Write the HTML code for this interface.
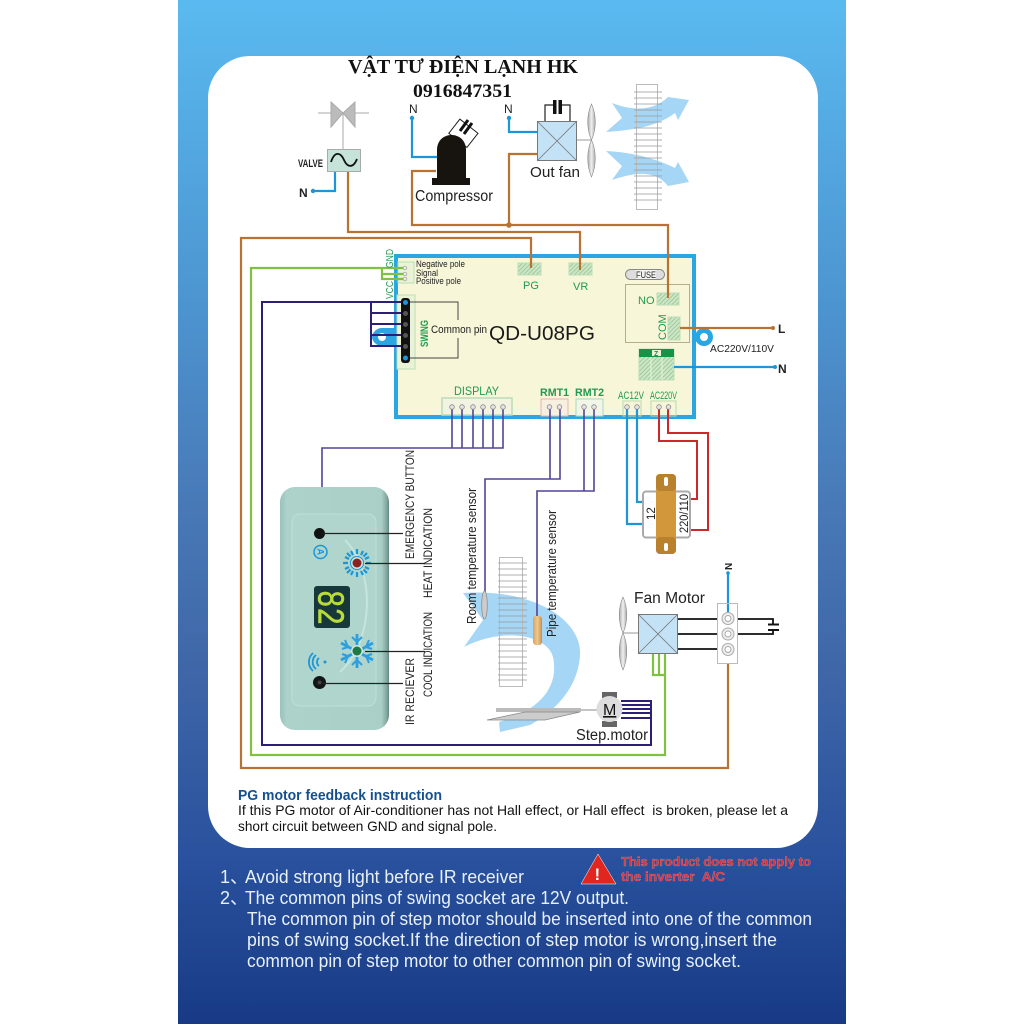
<!DOCTYPE html>
<html><head><meta charset="utf-8"><style>
html,body{margin:0;padding:0;background:#fff}
svg{display:block;filter:blur(.3px)}
text{font-family:"Liberation Sans","Noto Sans CJK SC",sans-serif}
</style></head><body>
<svg width="1024" height="1024" viewBox="0 0 1024 1024" xmlns="http://www.w3.org/2000/svg">
<defs>
<linearGradient id="bg" x1="0" y1="0" x2="0" y2="1">
<stop offset="0" stop-color="#5abaf0"/><stop offset=".3" stop-color="#4c94d0"/><stop offset=".5" stop-color="#4878b6"/><stop offset=".65" stop-color="#3f67a8"/><stop offset=".83" stop-color="#2a529e"/><stop offset="1" stop-color="#183a86"/>
</linearGradient>
<linearGradient id="rem" x1="0" y1="0" x2="1" y2="0">
<stop offset="0" stop-color="#98c2ba"/><stop offset=".06" stop-color="#acd2ca"/><stop offset=".93" stop-color="#a9cfc7"/><stop offset=".98" stop-color="#80a69f"/><stop offset="1" stop-color="#5f8680"/>
</linearGradient>
<linearGradient id="blade" x1="0" y1="0" x2="1" y2="0">
<stop offset="0" stop-color="#aaa"/><stop offset=".5" stop-color="#f0f0f0"/><stop offset="1" stop-color="#aaa"/>
</linearGradient>
<linearGradient id="sens" x1="0" y1="0" x2="1" y2="0">
<stop offset="0" stop-color="#d9a35c"/><stop offset=".5" stop-color="#f0c890"/><stop offset="1" stop-color="#c98e48"/>
</linearGradient>
<pattern id="hat" width="3" height="3" patternUnits="userSpaceOnUse" patternTransform="rotate(45)">
<rect width="3" height="3" fill="#cfe6c6"/><rect width="1" height="3" fill="#9ccb9e"/>
</pattern>
</defs>

<rect x="178" width="668" height="1024" fill="url(#bg)"/>
<rect x="208" y="56" width="610" height="792" rx="42" fill="#fff"/>

<!-- title -->
<text x="348" y="73" textLength="230" lengthAdjust="spacingAndGlyphs" style='font-family:"Liberation Serif","Noto Serif CJK SC",serif' font-weight="700" font-size="20" fill="#111">VẬT TƯ ĐIỆN LẠNH HK</text>
<text x="413" y="97" textLength="99" lengthAdjust="spacingAndGlyphs" style='font-family:"Liberation Serif",serif' font-weight="700" font-size="19" fill="#111">0916847351</text>

<!-- condenser -->
<path d="M612,103C635,112 655,110 668,97L689,100L678,120L675,113C655,128 630,130 606,132L622,118Z" fill="#a5d6f6"/>
<path d="M606,151C630,152 655,158 675,168L678,162L689,182L668,186C655,170 635,172 612,180L622,166Z" fill="#a5d6f6"/>
<rect x="636.500" y="84.500" width="21" height="125" fill="none" stroke="#bbb"/>
<g stroke="#999" stroke-width=".8">
<path d="M634,92H662M634,98H662M634,104H662M634,110H662M634,116H662M634,122H662M634,128H662M634,134H662M634,140H662M634,146H662M634,152H662M634,158H662M634,164H662M634,170H662M634,176H662M634,182H662M634,188H662M634,194H662M634,200H662"/>
</g>

<!-- evaporator + air -->
<path d="M463,593C530,588 582,618 580,655C578,690 552,713 530,725L500,732L499,722C535,712 560,690 553,657C548,636 505,626 464,647L483,620Z" fill="#a5d6f6"/>
<rect x="499.500" y="557.500" width="23" height="129" fill="none" stroke="#bbb"/>
<g stroke="#999" stroke-width=".8">
<path d="M498,563H527M498,569H527M498,575H527M498,581H527M498,587H527M498,592H527M498,598H527M498,604H527M498,610H527M498,616H527M498,622H527M498,628H527M498,633H527M498,639H527M498,645H527M498,651H527M498,657H527M498,663H527M498,669H527M498,675H527M498,680H527"/>
</g>

<!-- board -->
<circle cx="704" cy="337" r="9" fill="#2ba6e2"/>
<path d="M372,337a10,10 0 0 1 10,-9H395V346H382a10,10 0 0 1 -10,-9Z" fill="#2ba6e2"/>
<rect x="396" y="256" width="298" height="161" fill="#f7f6d8" stroke="#2ba6e2" stroke-width="4"/>
<circle cx="704" cy="337" r="4" fill="#fff"/>
<circle cx="382" cy="337" r="4" fill="#fff"/>
<rect x="398" y="262" width="16" height="21" fill="#eaf3d6" stroke="#bcdcb8"/>
<rect x="397" y="295" width="18" height="74" fill="#eaf3d6" stroke="#bcdcb8"/>
<rect x="518" y="263" width="23" height="12" fill="url(#hat)" stroke="#bcdcb8"/>
<rect x="569" y="263" width="23" height="12" fill="url(#hat)" stroke="#bcdcb8"/>
<rect x="625.500" y="269.500" width="39" height="10" rx="5" fill="#ddd" stroke="#888"/>
<rect x="636" y="270" width="20" height="9" fill="#f4f4f0"/>
<text x="636" y="278" textLength="20" lengthAdjust="spacingAndGlyphs" font-size="9" fill="#222">FUSE</text>
<rect x="625.500" y="284.500" width="64" height="58" fill="none" stroke="#b5ae8a"/>
<rect x="657" y="293" width="22" height="12" fill="url(#hat)" stroke="#bcdcb8"/>
<rect x="668" y="317" width="12" height="23" fill="url(#hat)" stroke="#bcdcb8"/>
<rect x="639" y="349" width="35" height="31" fill="url(#hat)" stroke="#bcdcb8"/>
<path d="M651,357V380M662,357V380" stroke="#eaf3d6"/>
<rect x="639" y="349" width="35" height="8" fill="#159447"/>
<rect x="652" y="350" width="9" height="6" fill="#eaf3d6"/>
<text x="654" y="356" font-size="7" font-weight="700" fill="#159447">Z</text>
<rect x="442" y="398" width="70" height="17" fill="#f2f3e0" stroke="#bcdcb8" stroke-width="1.500"/>
<rect x="541" y="399" width="27" height="17" fill="#f7f0e0" stroke="#e6b4b4"/>
<rect x="576" y="399" width="27" height="17" fill="#f2f6e8" stroke="#a8d8c0"/>
<rect x="623" y="401" width="18" height="15" fill="none" stroke="#b8d8b0"/>
<rect x="651" y="401" width="25" height="15" fill="none" stroke="#b8d8b0"/>

<!-- brown wires -->
<g fill="none" stroke="#b87333" stroke-width="2.200">
<path d="M348,171V232H580V270"/>
<path d="M436,171H412V225H668V298"/>
<path d="M509,225V154H537"/>
<path d="M531,268V238H241V768H728V663"/>
<path d="M680,328H773"/>
</g>
<circle cx="509" cy="225" r="2.800" fill="#b87333"/>
<circle cx="773" cy="328" r="2" fill="#b87333"/>

<!-- green wires -->
<g fill="none" stroke="#7fc241" stroke-width="2.200">
<path d="M405,268H251V755H665V654"/>
<path d="M382,268V279H405M382,274H405"/>
<path d="M653,654V675H665M659,654V675"/>
</g>

<!-- blue wires -->
<g fill="none" stroke="#1c96d8" stroke-width="2.200">
<path d="M335,171V191H313"/>
<path d="M412,118V157H437"/>
<path d="M509,118V132H537"/>
<path d="M674,367H775"/>
<path d="M627,407V524H642"/>
<path d="M637,407V502H642"/>
<path d="M728,573V612"/>
</g>
<g fill="#1c96d8"><circle cx="313" cy="191" r="2.200"/><circle cx="412" cy="118" r="2.200"/><circle cx="509" cy="118" r="2.200"/><circle cx="775" cy="367" r="2"/><circle cx="728" cy="573" r="1.800"/></g>

<!-- valve -->
<path d="M318,113H369" stroke="#aaa" fill="none"/>
<path d="M343,113V149" stroke="#aaa" fill="none"/>
<path d="M331,102L343,113L331,127ZM355,102L343,113L355,127Z" fill="#bbb" stroke="#aaa"/>
<rect x="327.500" y="149.500" width="33" height="22" fill="#c5e3d8" stroke="#aaa"/>
<path d="M331,162C335,150 341,153 344,160C347,167 353,169 357,159" fill="none" stroke="#111" stroke-width="1.800"/>
<text x="298" y="167" textLength="25" lengthAdjust="spacingAndGlyphs" font-size="11" font-weight="700" fill="#222">VALVE</text>
<text x="299" y="197" font-size="12" font-weight="700" fill="#222">N</text>
<text x="409" y="113" font-size="12" fill="#222">N</text>
<text x="504" y="113" font-size="12" fill="#222">N</text>

<!-- compressor -->
<g transform="rotate(38 463 133)"><rect x="452" y="124" width="23" height="18" fill="#fff" stroke="#222"/></g>
<path d="M460,131L468,120M464,134L472,123" stroke="#111" stroke-width="3"/>
<path d="M437,178V150C437,130 466,130 466,150V178Z" fill="#17130f"/>
<rect x="432" y="178" width="38" height="7" fill="#17130f"/>
<text x="415" y="201" textLength="78" lengthAdjust="spacingAndGlyphs" font-size="15.500" fill="#222">Compressor</text>

<!-- out fan -->
<path d="M545,121V105H553M570,121V105H562" fill="none" stroke="#222" stroke-width="1.200"/>
<rect x="553" y="100" width="3.500" height="14" fill="#111"/><rect x="558.500" y="100" width="3.500" height="14" fill="#111"/>
<rect x="537.500" y="121.500" width="39" height="39" fill="#c3e2f6" stroke="#777"/>
<path d="M537,121L577,161M577,121L537,161" stroke="#777" stroke-width=".8"/>
<path d="M577,140H591" stroke="#999"/>
<path d="M591.500,104C597,116 596,130 591.500,140C587,130 586,116 591.500,104ZM591.500,140C596,150 597,164 591.500,177C586,164 587,150 591.500,140Z" fill="url(#blade)" stroke="#888" stroke-width=".6"/>
<text x="530" y="177" textLength="50" lengthAdjust="spacingAndGlyphs" font-size="15" fill="#222">Out fan</text>

<!-- board labels -->
<g fill="#eee" stroke="#999" stroke-width=".7"><circle cx="405" cy="268" r="1.800"/><circle cx="405" cy="274" r="1.800"/><circle cx="405" cy="279" r="1.800"/></g>
<g font-size="9" fill="#222"><text x="416" y="267" textLength="49" lengthAdjust="spacingAndGlyphs">Negative pole</text><text x="416" y="276" textLength="22" lengthAdjust="spacingAndGlyphs">Signal</text><text x="416" y="284" textLength="45" lengthAdjust="spacingAndGlyphs">Positive pole</text></g>
<text transform="translate(393,268) rotate(-90)" textLength="19" lengthAdjust="spacingAndGlyphs" font-size="10" fill="#1f9a50">GND</text>
<text transform="translate(393,299) rotate(-90)" textLength="18" lengthAdjust="spacingAndGlyphs" font-size="10" fill="#1f9a50">VCC</text>

<!-- navy wires -->
<g fill="none" stroke="#2c1f78" stroke-width="2">
<path d="M405,302H262V745H651V701H621"/>
<path d="M371,302V346H405M371,313H405M371,324H405M371,335H405"/>
<path d="M621,705H651M621,709H651M621,713H651M621,718H651"/>
</g>

<!-- swing pins -->
<rect x="401" y="298" width="9" height="65" rx="3" fill="#111"/>
<g fill="#555" stroke="#111"><circle cx="405.500" cy="313.500" r="3"/><circle cx="405.500" cy="324.500" r="3"/><circle cx="405.500" cy="335.500" r="3"/><circle cx="405.500" cy="346.500" r="3"/></g>
<circle cx="405.500" cy="302.500" r="2.500" fill="#1c96d8"/><circle cx="405.500" cy="358" r="2.500" fill="#1c96d8"/>
<path d="M410,302H458V320M410,358H458V338" fill="none" stroke="#444" stroke-width="1"/>
<text transform="translate(428,347) rotate(-90)" textLength="27" lengthAdjust="spacingAndGlyphs" font-size="11" font-weight="700" fill="#1f9a50">SWING</text>
<text x="431" y="333" textLength="56" lengthAdjust="spacingAndGlyphs" font-size="11" fill="#222">Common pin</text>
<text x="489" y="340" textLength="106" lengthAdjust="spacingAndGlyphs" font-size="20" fill="#1a1a1a">QD-U08PG</text>

<text x="523" y="289" font-size="11" fill="#1f9a50">PG</text>
<text x="573" y="290" font-size="11" fill="#1f9a50">VR</text>
<text x="638" y="304" font-size="11" fill="#1f9a50">NO</text>
<text transform="translate(666,340) rotate(-90)" font-size="11" fill="#1f9a50">COM</text>

<text x="778" y="333" font-size="12" font-weight="700" fill="#222">L</text>
<text x="778" y="373" font-size="12" font-weight="700" fill="#222">N</text>
<text x="710" y="352" textLength="64" lengthAdjust="spacingAndGlyphs" font-size="10.500" fill="#222">AC220V/110V</text>

<text x="454" y="395" textLength="45" lengthAdjust="spacingAndGlyphs" font-size="12" fill="#1f9a50">DISPLAY</text>
<text x="540" y="396" textLength="29" lengthAdjust="spacingAndGlyphs" font-size="11" font-weight="700" fill="#1f9a50">RMT1</text>
<text x="575" y="396" textLength="29" lengthAdjust="spacingAndGlyphs" font-size="11" font-weight="700" fill="#1f9a50">RMT2</text>
<text x="618" y="399" textLength="26" lengthAdjust="spacingAndGlyphs" font-size="11" fill="#1f9a50">AC12V</text>
<text x="650" y="399" textLength="27" lengthAdjust="spacingAndGlyphs" font-size="11" fill="#1f9a50">AC220V</text>

<!-- purple wires -->
<g fill="none" stroke="#4f4596" stroke-width="1.600">
<path d="M452,407V448M462,407V448M473,407V448M483,407V448M493,407V448M503,407V448H322V487"/>
<path d="M550,407V479M560,407V479H485V592"/>
<path d="M584,407V491M594,407V491H537V617"/>
</g>
<!-- red -->
<g fill="none" stroke="#cc2a2a" stroke-width="2">
<path d="M659,407V441H697V499H690"/>
<path d="M668,407V433H708V530H690"/>
</g>
<g fill="#e4e4e4" stroke="#888" stroke-width=".8">
<circle cx="452" cy="407" r="2.300"/><circle cx="462" cy="407" r="2.300"/><circle cx="473" cy="407" r="2.300"/><circle cx="483" cy="407" r="2.300"/><circle cx="493" cy="407" r="2.300"/><circle cx="503" cy="407" r="2.300"/>
<circle cx="549.500" cy="407" r="2.300"/><circle cx="559.500" cy="407" r="2.300"/><circle cx="584" cy="407" r="2.300"/><circle cx="594" cy="407" r="2.300"/>
<circle cx="627" cy="407" r="2.300"/><circle cx="637" cy="407" r="2.300"/><circle cx="659" cy="407" r="2.300"/><circle cx="668.500" cy="407" r="2.300"/>
</g>

<!-- transformer -->
<rect x="643" y="491.500" width="47" height="46" rx="3" fill="#fff" stroke="#aaa" stroke-width="2"/>
<rect x="656" y="474" width="20" height="80" rx="4" fill="#d2973a"/>
<rect x="656" y="474" width="20" height="17" rx="4" fill="#b9812d"/><rect x="656" y="537" width="20" height="17" rx="4" fill="#b9812d"/>
<rect x="664" y="477" width="4" height="9" rx="2" fill="#fff"/><rect x="664" y="543" width="4" height="8" rx="2" fill="#fff"/>
<text transform="translate(655,520) rotate(-90)" font-size="11.500" fill="#222">12</text>
<text transform="translate(688,533) rotate(-90)" textLength="39" lengthAdjust="spacingAndGlyphs" font-size="11.500" fill="#222">220/110</text>

<!-- sensors -->
<ellipse cx="484.500" cy="605" rx="2.800" ry="14" fill="#ccc" stroke="#888" stroke-width=".7"/>
<rect x="533" y="616" width="9" height="29" rx="3" fill="url(#sens)"/>
<text transform="translate(476,624) rotate(-90)" textLength="136" lengthAdjust="spacingAndGlyphs" font-size="12.500" fill="#222">Room temperature sensor</text>
<text transform="translate(556,637) rotate(-90)" textLength="127" lengthAdjust="spacingAndGlyphs" font-size="12.500" fill="#222">Pipe temperature sensor</text>

<!-- fan motor -->
<path d="M677,619H773V624M677,634H773V630M677,649H728" fill="none" stroke="#111" stroke-width="1.800"/>
<path d="M768,624.500H779M768,630H779" stroke="#111" stroke-width="2"/>
<rect x="717.500" y="603.500" width="20" height="60" fill="#fff" stroke="#bbb"/>
<g fill="#eee" stroke="#aaa"><circle cx="728" cy="618.500" r="6"/><circle cx="728" cy="634" r="6"/><circle cx="728" cy="649.500" r="6"/></g>
<g fill="#fff" stroke="#aaa"><circle cx="728" cy="618.500" r="3"/><circle cx="728" cy="634" r="3"/><circle cx="728" cy="649.500" r="3"/></g>
<path d="M728,604V612" stroke="#1c96d8" stroke-width="2.200"/>
<rect x="638.500" y="614.500" width="39" height="39" fill="#c3e2f6" stroke="#777"/>
<path d="M638,614L678,654M678,614L638,654" stroke="#777" stroke-width=".8"/>
<path d="M623,633H638" stroke="#999"/>
<path d="M623,597C628.500,609 627.500,623 623,633C618.500,623 617.500,609 623,597ZM623,633C627.500,643 628.500,657 623,670C617.500,657 618.500,643 623,633Z" fill="url(#blade)" stroke="#888" stroke-width=".6"/>
<text x="634" y="603" textLength="71" lengthAdjust="spacingAndGlyphs" font-size="15.500" fill="#222">Fan Motor</text>
<text transform="translate(732,570) rotate(-90)" font-size="10" font-weight="700" fill="#222">N</text>

<!-- step motor -->
<path d="M580,710H597" stroke="#888"/>
<rect x="496" y="708" width="85" height="4" fill="#bbb"/>
<path d="M487,720L525,712H580L545,720Z" fill="#ccc" stroke="#888" stroke-width=".7"/>
<rect x="602" y="692" width="15" height="6" fill="#666"/><rect x="602" y="721" width="15" height="6" fill="#666"/>
<circle cx="609.500" cy="709" r="13" fill="#ddd"/>
<text x="603" y="715" font-size="16" fill="#111" text-decoration="underline">M</text>
<text x="576" y="740" textLength="72" lengthAdjust="spacingAndGlyphs" font-size="15.500" fill="#222">Step.motor</text>

<!-- remote -->
<rect x="280" y="487" width="109" height="243" rx="15" fill="url(#rem)"/>
<rect x="292" y="514" width="84" height="192" rx="8" fill="#afd5cc" stroke="#bfe0d8"/>
<path d="M345,540C375,570 375,640 340,672" fill="none" stroke="#c6e5dd" stroke-width="2"/>
<circle cx="319.500" cy="533.500" r="5.500" fill="#111"/>
<circle cx="320.500" cy="552" r="6.500" fill="none" stroke="#1c96d8" stroke-width="1.500"/>
<text transform="translate(317.500,548.500) rotate(90)" font-size="9" font-weight="700" fill="#1c96d8">A</text>
<g stroke="#1c96d8" stroke-width="2.200"><path d="M357,549V554M357,572V577M343,563H348M366,563H371M347,553L350.500,556.500M363.500,569.500L367,573M367,553L363.500,556.500M350.500,569.500L347,573M351,551L353,555M361,571L363,575M363,551L361,555M353,571L351,575M345,557L349,559M365,567L369,569M369,557L365,559M349,567L345,569"/></g>
<circle cx="357" cy="563" r="6.500" fill="#cfe6e0" stroke="#1c96d8"/><circle cx="357" cy="563" r="4.500" fill="#8a2222"/>
<rect x="314" y="586" width="36" height="42" rx="3" fill="#17383a"/>
<text transform="translate(318.500,590) rotate(90)" textLength="35" lengthAdjust="spacingAndGlyphs" style='font-family:"Liberation Mono",monospace' font-size="38" fill="#b9dc3c" stroke="#b9dc3c" stroke-width=".5">82</text>
<g fill="none" stroke="#2b9fe0" stroke-width="2.800"><path d="M357,634V668M341,643L373,660M341,660L373,643"/></g>
<g fill="none" stroke="#2b9fe0" stroke-width="2"><path d="M352,637L357,642L362,637M352,665L357,660L362,665M342,649L348,647L345,640M342,654L348,656L345,663M372,649L366,647L369,640M372,654L366,656L369,663"/></g>
<circle cx="357" cy="651" r="6" fill="#cfe6e0"/><circle cx="357" cy="651" r="4.500" fill="#1e7a44"/>
<g fill="none" stroke="#1c96d8" stroke-width="1.800"><path d="M319,658a5,5 0 0 0 0,8M316,655a9,9 0 0 0 0,14M313,653a12,12 0 0 0 0,18"/></g><circle cx="325" cy="662" r="1.500" fill="#1c96d8"/>
<circle cx="319.500" cy="682.500" r="6.500" fill="#151515"/><circle cx="319.500" cy="682.500" r="2" fill="#444"/>
<path d="M322,533.500H403M365,563.500H425M365,651.500H425M322,683.500H403" stroke="#222" stroke-width="1.200"/>
<g font-size="12" fill="#222">
<text transform="translate(414,559) rotate(-90)" textLength="109" lengthAdjust="spacingAndGlyphs">EMERGENCY BUTTON</text>
<text transform="translate(432,598) rotate(-90)" textLength="90" lengthAdjust="spacingAndGlyphs">HEAT INDICATION</text>
<text transform="translate(432,697) rotate(-90)" textLength="85" lengthAdjust="spacingAndGlyphs">COOL INDICATION</text>
<text transform="translate(414,725) rotate(-90)" textLength="67" lengthAdjust="spacingAndGlyphs">IR RECIEVER</text>
</g>

<!-- notes -->
<text x="238" y="800" textLength="204" lengthAdjust="spacingAndGlyphs" font-size="14.500" font-weight="700" fill="#15508e">PG motor feedback instruction</text>
<text x="238" y="815" textLength="550" lengthAdjust="spacingAndGlyphs" font-size="14" fill="#111" xml:space="preserve">If this PG motor of Air-conditioner has not Hall effect, or Hall effect  is broken, please let a</text>
<text x="238" y="831" textLength="259" lengthAdjust="spacingAndGlyphs" font-size="14" fill="#111">short circuit between GND and signal pole.</text>

<path d="M598,854L616,884H581Z" fill="#e0261e" stroke="#fff" stroke-width=".5"/>
<text x="594.500" y="880" font-size="17" font-weight="700" fill="#fff">!</text>
<g font-size="13" font-weight="700" fill="#d6303c" stroke="#e88" stroke-width=".3">
<text x="621" y="866" textLength="190" lengthAdjust="spacingAndGlyphs">This product does not apply to</text>
<text x="621" y="881" textLength="104" lengthAdjust="spacingAndGlyphs" xml:space="preserve">the inverter  A/C</text>
</g>
<g font-size="18" fill="#e8f1fb" xml:space="preserve">
<text x="220" y="883">1、</text>
<text x="245" y="883" textLength="279" lengthAdjust="spacingAndGlyphs">Avoid strong light before IR receiver</text>
<text x="220" y="904">2、</text>
<text x="245" y="904" textLength="384" lengthAdjust="spacingAndGlyphs">The common pins of swing socket are 12V output.</text>
<text x="247" y="925" textLength="565" lengthAdjust="spacingAndGlyphs">The common pin of step motor should be inserted into one of the common</text>
<text x="247" y="946" textLength="530" lengthAdjust="spacingAndGlyphs">pins of swing  socket.If the direction of step motor is wrong,insert the</text>
<text x="247" y="967" textLength="494" lengthAdjust="spacingAndGlyphs">common pin of step motor to other  common pin of swing socket.</text>
</g>
</svg>
</body></html>
